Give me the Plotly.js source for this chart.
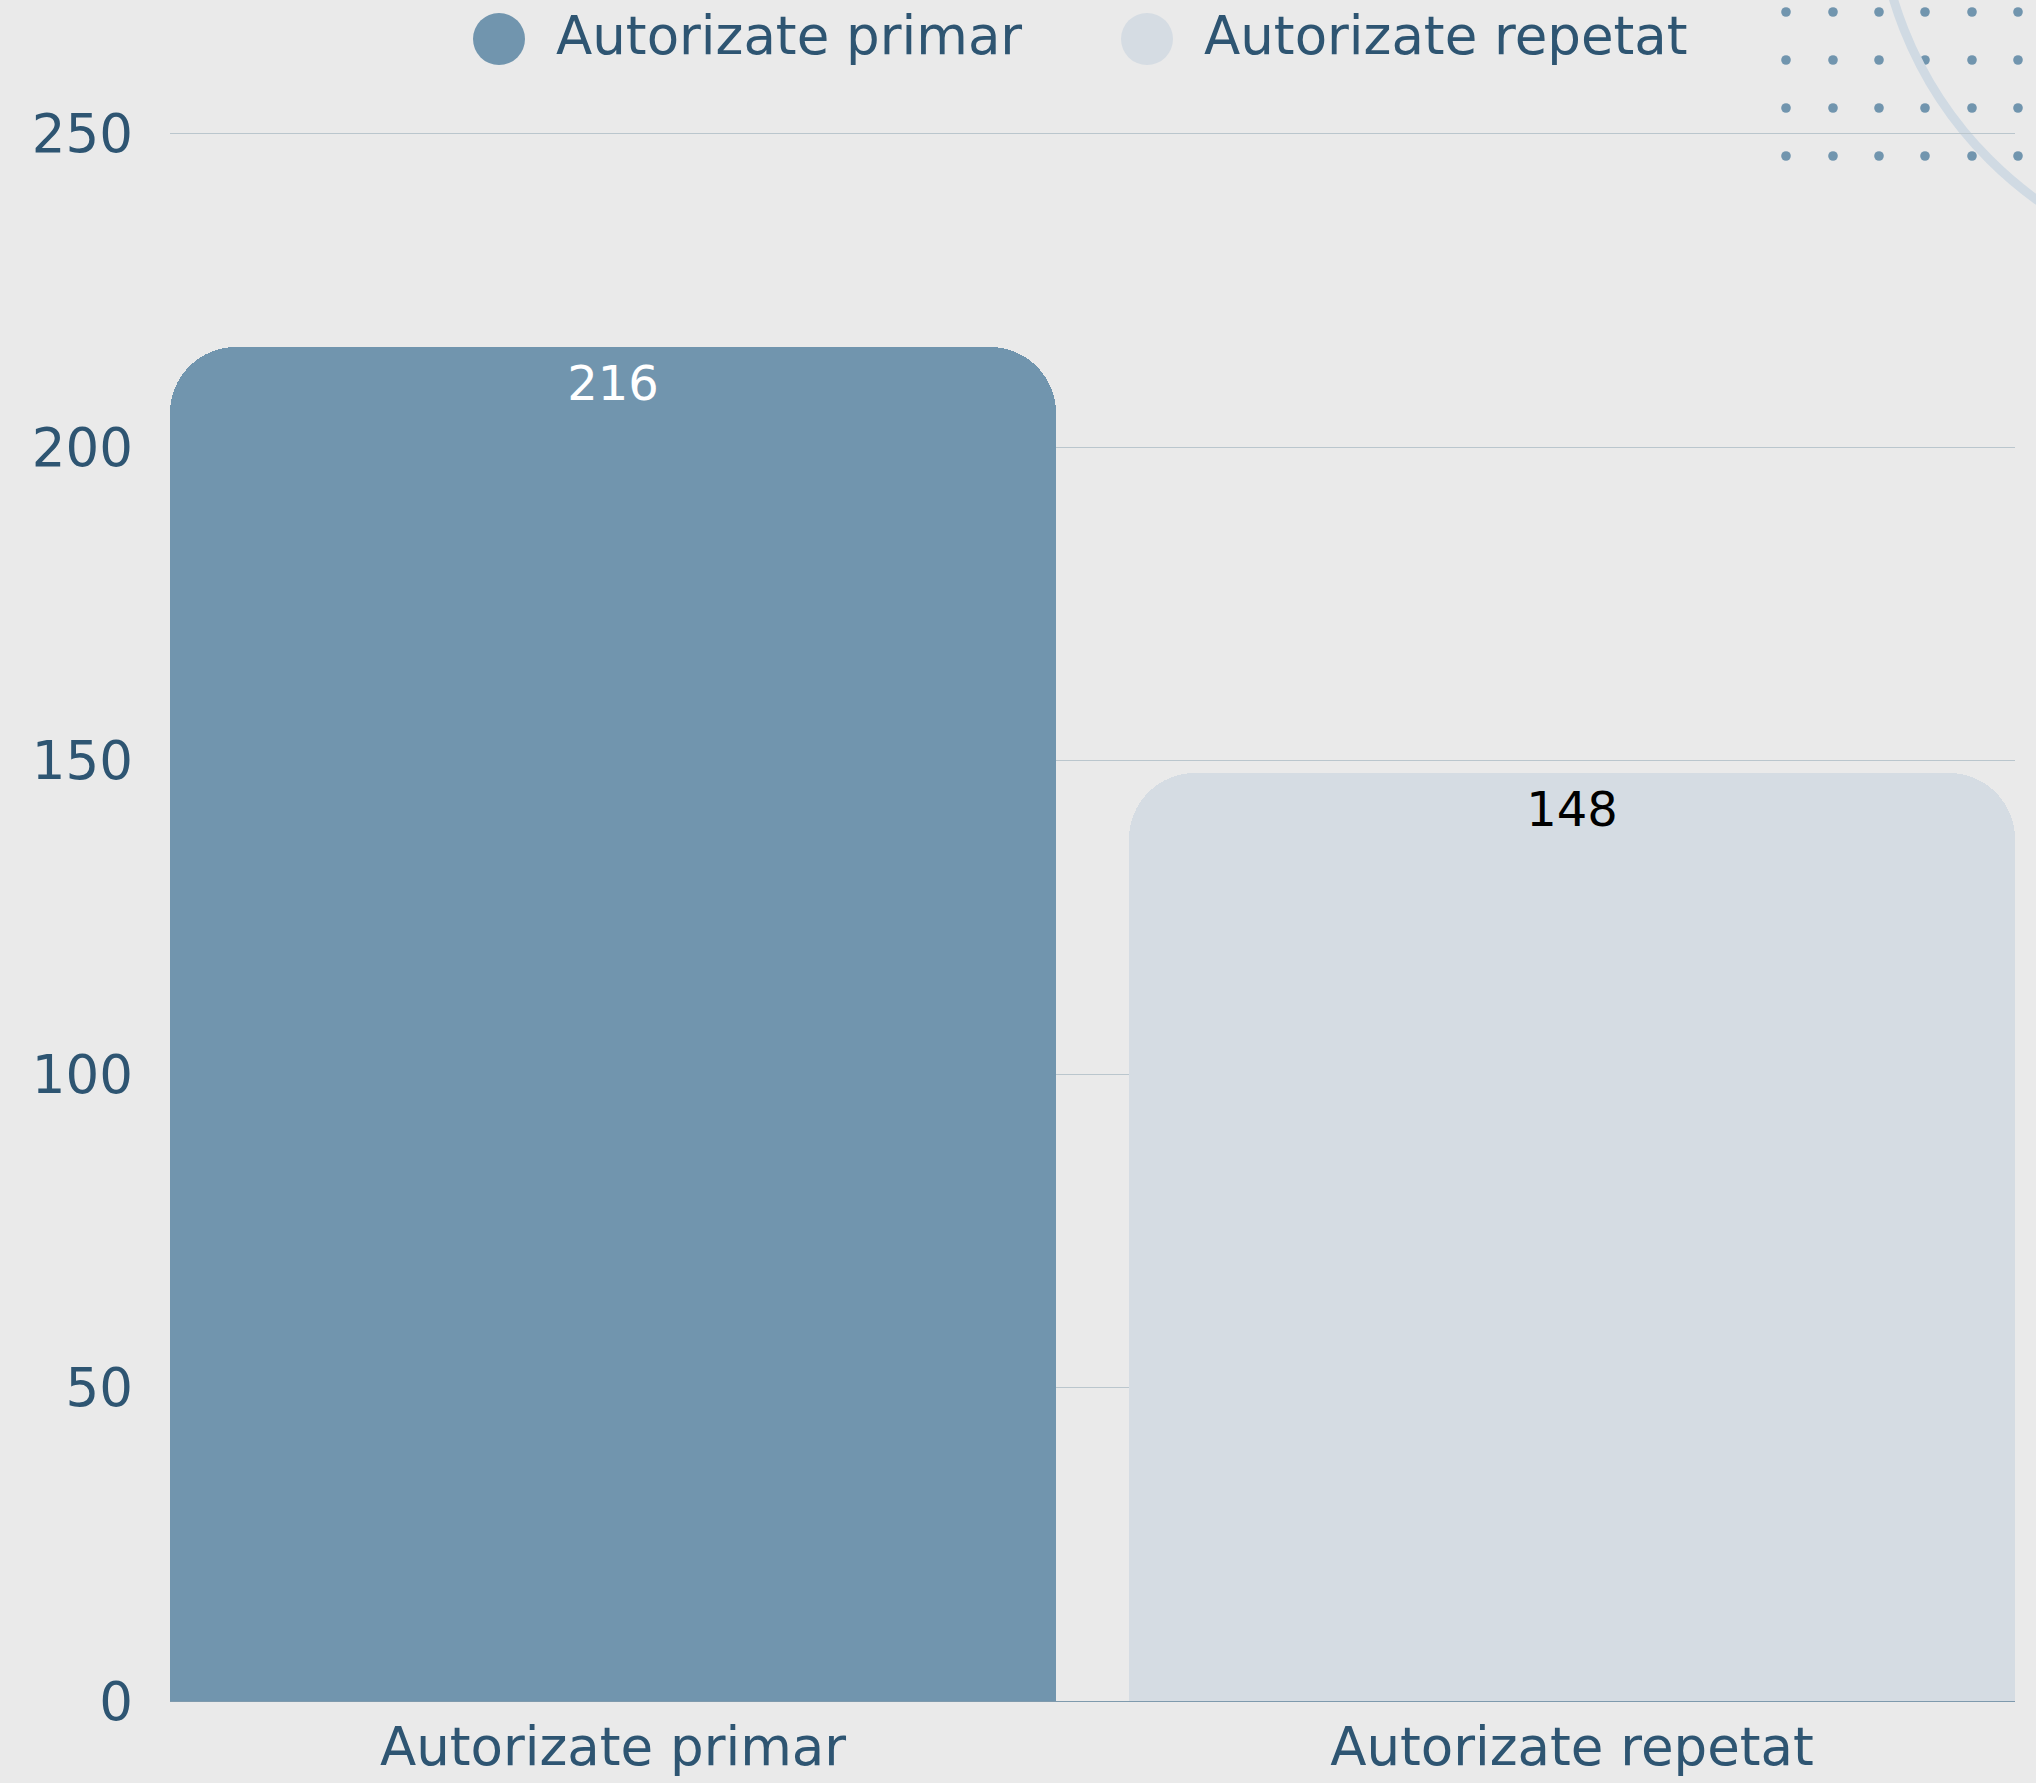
<!DOCTYPE html>
<html>
<head>
<meta charset="utf-8">
<script src="https://cdn.plot.ly/plotly-3.0.1.min.js"></script>
<style>
  html, body { margin: 0; padding: 0; background: #ebebeb; }
  #chart { width: 2036px; height: 1783px; }
</style>
</head>
<body>
<div id="chart"></div>
<script>
// ---- data ----
const categories = ['Autorizate primar', 'Autorizate repetat'];
const values = [216, 148];
const barColors = ['#7195ae', '#d5dce3'];
const labelColors = ['#ffffff', '#000000'];
const yTicks = [0, 50, 100, 150, 200, 250];

// ---- layout constants (pixels) ----
const W = 2036, H = 1783;
const M = { l: 170, r: 21, t: 121, b: 82 };
const YMAX = 252;
const PW = W - M.l - M.r, PH = H - M.t - M.b;
const px2x = p => (p - M.l) / PW;
const px2y = p => (H - M.b - p) / PH;

const FONT = 'DejaVu Sans, sans-serif';
const TXT = '#2e5572';
const FS = 53;

const barWidth = 0.924;

const bars = {
  type: 'bar',
  x: categories,
  y: values,
  width: barWidth,
  marker: { color: barColors, cornerradius: 66, line: { width: 0 } },
  hoverinfo: 'skip',
  showlegend: false
};

const labels = {
  type: 'scatter',
  mode: 'text+markers',
  x: categories,
  y: values,
  marker: { size: 26, color: 'rgba(0,0,0,0)' },
  text: values.map(String),
  textposition: 'bottom center',
  textfont: { family: FONT, size: 48, color: labelColors },
  hoverinfo: 'skip',
  showlegend: false,
  cliponaxis: false
};

// custom legend (circle + text) built from categories & colors
const legendCircleX = [499, 1147];
const legendTextX = [554, 1202];
const legendY = 39, legendR = 26, legendTextY = 36;

const shapes = [];
const annotations = [];
categories.forEach((c, i) => {
  shapes.push({
    type: 'circle', xref: 'paper', yref: 'paper', layer: 'above',
    x0: px2x(legendCircleX[i] - legendR), x1: px2x(legendCircleX[i] + legendR),
    y0: px2y(legendY + legendR), y1: px2y(legendY - legendR),
    fillcolor: barColors[i], line: { width: 0 }
  });
  annotations.push({
    xref: 'paper', yref: 'paper', x: px2x(legendTextX[i]), y: px2y(legendTextY),
    xanchor: 'left', yanchor: 'middle', showarrow: false,
    text: c, font: { family: FONT, size: FS, color: TXT }
  });
});

// decoration: dot grid + arc (top-right)
const dotCols = [1786, 1833, 1879, 1925, 1972, 2018];
const dotRows = [12, 60, 108, 156];
dotRows.forEach(yy => dotCols.forEach(xx => {
  shapes.push({
    type: 'circle', xref: 'paper', yref: 'paper', layer: 'below',
    x0: px2x(xx - 4.8), x1: px2x(xx + 4.8), y0: px2y(yy + 4.8), y1: px2y(yy - 4.8),
    fillcolor: '#7195ae', line: { width: 0 }
  });
}));
const arcC = [2261, -112], arcR = 384;
shapes.push({
  type: 'circle', xref: 'paper', yref: 'paper', layer: 'below',
  x0: px2x(arcC[0] - arcR), x1: px2x(arcC[0] + arcR),
  y0: px2y(arcC[1] + arcR), y1: px2y(arcC[1] - arcR),
  fillcolor: 'rgba(0,0,0,0)', line: { color: '#d0dae3', width: 9 }
});

const layout = {
  width: W, height: H,
  margin: M,
  paper_bgcolor: '#eaeaea',
  plot_bgcolor: 'rgba(0,0,0,0)',
  showlegend: false,
  font: { family: FONT, color: TXT },
  bargap: 0,
  xaxis: {
    type: 'category',
    range: [-barWidth / 2, 1 + barWidth / 2],
    showgrid: false, zeroline: false, showline: false, ticks: '',
    ticklabelstandoff: 10,
    tickfont: { family: FONT, size: FS, color: TXT },
    fixedrange: true
  },
  yaxis: {
    range: [0, YMAX],
    tickvals: yTicks,
    ticktext: yTicks.map(String),
    showgrid: true, gridcolor: '#bac6cd', gridwidth: 1,
    zeroline: true, zerolinecolor: '#7f9aad', zerolinewidth: 1,
    showline: false, ticks: '',
    ticklabelstandoff: 36,
    tickfont: { family: FONT, size: FS, color: TXT },
    fixedrange: true
  },
  shapes: shapes,
  annotations: annotations
};

Plotly.newPlot('chart', [bars, labels], layout, { displayModeBar: false, responsive: false });
</script>
</body>
</html>
